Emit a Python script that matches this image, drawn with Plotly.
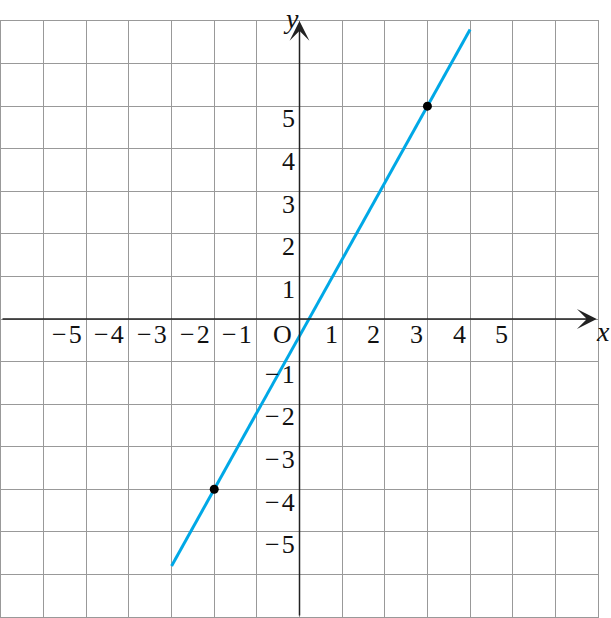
import plotly.graph_objects as go

# data
x_tick_values = [-5, -4, -3, -2, -1, 1, 2, 3, 4, 5]
y_tick_values = [5, 4, 3, 2, 1, -1, -2, -3, -4, -5]
line_x = [-3, 4]
line_y = [-5.8, 6.8]
point_x = [-2, 3]
point_y = [-4, 5]

FONT = "Liberation Serif"

def lab(v):
    return ("\u2212\u200a" + str(abs(v))) if v < 0 else str(v)

fig = go.Figure()
fig.add_trace(go.Scatter(x=line_x, y=line_y, mode="lines",
                         line=dict(color="#00a8e6", width=3), hoverinfo="skip"))
fig.add_trace(go.Scatter(x=point_x, y=point_y, mode="markers",
                         marker=dict(color="black", size=9), hoverinfo="skip"))

ann = []
# axes with arrows
ann.append(dict(x=6.97, y=0, ax=-7, ay=0, xref="x", yref="y", axref="x", ayref="y",
                showarrow=True, arrowhead=3, arrowwidth=1.5, arrowsize=2.2,
                arrowcolor="#222", text=""))
ann.append(dict(x=0, y=7, ax=0, ay=-7, xref="x", yref="y", axref="x", ayref="y",
                showarrow=True, arrowhead=3, arrowwidth=1.5, arrowsize=2.2,
                arrowcolor="#222", text=""))
for v in x_tick_values:
    ann.append(dict(x=v - 0.06, y=-0.37, xref="x", yref="y", text=lab(v),
                    showarrow=False, xanchor="right", yanchor="middle",
                    font=dict(family=FONT, size=26, color="#111")))
for v in y_tick_values:
    ann.append(dict(x=-0.05, y=v - 0.3, xref="x", yref="y", text=lab(v),
                    showarrow=False, xanchor="right", yanchor="middle",
                    font=dict(family=FONT, size=26, color="#111")))
ann.append(dict(x=-0.12, y=-0.37, xref="x", yref="y", text="O", showarrow=False,
                xanchor="right", yanchor="middle",
                font=dict(family=FONT, size=26, color="#111")))
ann.append(dict(x=1.008, y=-0.3, xref="paper", yref="y", text="<i>x</i>", showarrow=False,
                xanchor="center", yanchor="middle",
                font=dict(family=FONT, size=28, color="#111")))
ann.append(dict(x=-0.21, y=1.005, xref="x", yref="paper", text="<i>y</i>", showarrow=False,
                xanchor="center", yanchor="middle",
                font=dict(family=FONT, size=28, color="#111")))

axis_common = dict(range=[-7, 7], dtick=1, tick0=0, showgrid=True,
                   gridcolor="#999999", gridwidth=1, zeroline=False,
                   showticklabels=False, ticks="", showline=True, mirror=True,
                   linecolor="#999999", linewidth=1, fixedrange=True)

fig.update_layout(
    width=611, height=618,
    margin=dict(l=1, r=13, t=21, b=1),
    paper_bgcolor="white", plot_bgcolor="white",
    showlegend=False,
    xaxis=axis_common,
    yaxis=axis_common,
    annotations=ann,
)
fig.write_html("out.html", config={"displayModeBar": False},
               post_script="document.body.style.margin='0';document.body.style.overflow='hidden';")
